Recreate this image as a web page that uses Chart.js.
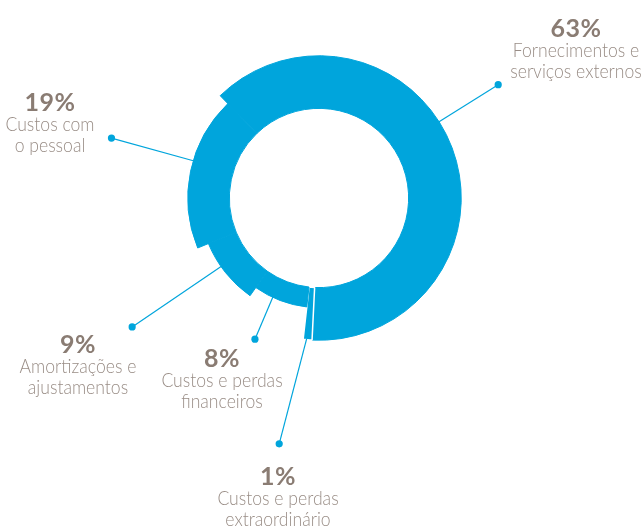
<!DOCTYPE html>
<html>
<head>
<meta charset="utf-8">
<script src="https://cdn.jsdelivr.net/npm/chart.js@4/dist/chart.umd.min.js"></script>
<style>
  html, body { margin: 0; padding: 0; background: #fff; }
  #wrap { position: relative; width: 643px; height: 528px; overflow: hidden; }
  #wrap canvas { position: absolute; left: 0; top: 0; }
  .callout { position: absolute; text-align: center; white-space: nowrap;
             font-family: Lato, "Open Sans", sans-serif;
             transform: translateX(-50%); }
  .callout .pct { font-size: 25px; font-weight: 700; color: #8a7c73; line-height: 24px; letter-spacing: 0.5px; }
  .callout .txt { font-size: 20px; font-weight: 300; color: #998d86; line-height: 21px;
                  transform: scaleX(0.88); }
</style>
</head>
<body>
<div id="wrap">
  <canvas id="cost-chart" width="643" height="528"></canvas>
</div>
<script>
/* ── Estrutura de custos ─────────────────────────────────── */

var CATEGORIES = [
    ['Fornecimentos e', 'serviços externos'],
    ['Custos e perdas', 'extraordinário'],
    ['Custos e perdas', 'financeiros'],
    ['Amortizações e', 'ajustamentos'],
    ['Custos com', 'o pessoal']
];
var SHARES = [63, 1, 8, 9, 19];

// ring thickness of each slice, as a fraction of the full ring
var RING_DEPTH = [1, 1, 0.38, 0.57, 0.79];

// leader line: angle (deg, clockwise from top), dot angle and dot distance from centre
var LEAD_ANGLE = [57.6, 185, 205, -125, -73.5];
var DOT_ANGLE  = [57.7, 189.2, 204.4, -124.6, -73.9];
var DOT_RADIUS = [212, 249, 155, 227, 216];

// label block: centre x, top y
var LABEL_POS = [[576, 15], [278, 463], [222, 345], [78, 331], [50, 89]];

var BLUE = '#00a5dc';
var TAU = Math.PI * 2;

function toRad(deg) { return (deg - 90) * Math.PI / 180; }

// bring an angle inside [start, end], or to the nearest end of it
function clampToArc(a, start, end) {
    a = start + (((a - start) % TAU) + TAU) % TAU;
    if (a <= end) return a;
    return (a - end < start + TAU - a) ? end : start;
}

var ringDepthPlugin = {
    id: 'ringDepth',
    beforeDatasetsDraw: function(chart) {
        var meta = chart.getDatasetMeta(0);
        var ctrl = meta.controller;
        meta.data.forEach(function(arc, i) {
            arc.outerRadius = ctrl.innerRadius + (ctrl.outerRadius - ctrl.innerRadius) * RING_DEPTH[i];
        });
    }
};

var leaderPlugin = {
    id: 'leaders',
    afterDatasetsDraw: function(chart) {
        var ctx = chart.ctx;
        var meta = chart.getDatasetMeta(0);
        meta.data.forEach(function(arc, i) {
            var a = clampToArc(toRad(LEAD_ANGLE[i]), arc.startAngle, arc.endAngle);
            var x0 = arc.x + Math.cos(a) * (arc.outerRadius - 1);
            var y0 = arc.y + Math.sin(a) * (arc.outerRadius - 1);
            var d = toRad(DOT_ANGLE[i]);
            var x1 = arc.x + Math.cos(d) * DOT_RADIUS[i];
            var y1 = arc.y + Math.sin(d) * DOT_RADIUS[i];

            ctx.save();
            ctx.strokeStyle = BLUE;
            ctx.lineWidth = 1.2;
            ctx.beginPath();
            ctx.moveTo(x0, y0);
            ctx.lineTo(x1, y1);
            ctx.stroke();
            ctx.fillStyle = BLUE;
            ctx.beginPath();
            ctx.arc(x1, y1, 3.6, 0, TAU);
            ctx.fill();
            ctx.restore();
        });
    }
};

new Chart(document.getElementById('cost-chart'), {
    type: 'doughnut',
    data: {
        labels: CATEGORIES.map(function(c) { return c.join(' '); }),
        datasets: [{
            data: SHARES,
            backgroundColor: BLUE,
            // small slice is set apart by white edges, the others blend together
            borderColor: function(c) { return c.dataIndex === 1 ? '#ffffff' : BLUE; },
            borderWidth: function(c) { return c.dataIndex === 1 ? 1.5 : 1; },
            hoverOffset: 0,
            offset: 0
        }]
    },
    options: {
        responsive: false,
        animation: false,
        events: [],
        rotation: -44,
        cutout: '63%',
        layout: { padding: { left: 176, right: 181, top: 55, bottom: 187 } },
        plugins: { legend: { display: false }, tooltip: { enabled: false } }
    },
    plugins: [ringDepthPlugin, leaderPlugin]
});

// percentage callouts
var wrap = document.getElementById('wrap');
SHARES.forEach(function(v, i) {
    var el = document.createElement('div');
    el.className = 'callout';
    el.style.left = LABEL_POS[i][0] + 'px';
    el.style.top = LABEL_POS[i][1] + 'px';
    el.innerHTML = '<div class="pct">' + v + '%</div>' +
        CATEGORIES[i].map(function(t) { return '<div class="txt">' + t + '</div>'; }).join('');
    wrap.appendChild(el);
});
</script>
</body>
</html>
